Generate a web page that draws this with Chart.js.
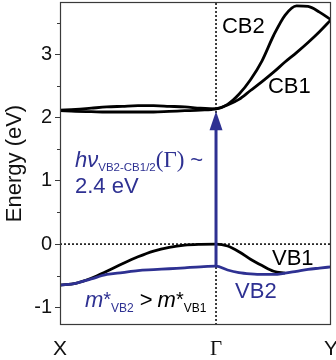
<!DOCTYPE html>
<html>
<head>
<meta charset="utf-8">
<script src="https://cdn.jsdelivr.net/npm/chart.js@4/dist/chart.umd.min.js"></script>
<style>
html,body{margin:0;padding:0;background:#fff;}
#wrap{width:336px;height:360px;}
</style>
</head>
<body>
<div id="wrap"><canvas id="c" width="336" height="360"></canvas></div>
<script>
// ---- data ----
const kPathXG = [0, 0.1, 0.2, 0.3, 0.4, 0.5, 0.6, 0.7, 0.8, 0.9, 1.0];           // X -> Γ
const kPathGY = [1.0, 1.074, 1.147, 1.221, 1.295, 1.369, 1.442, 1.516, 1.590, 1.663, 1.737]; // Γ -> Y
const kTickValues = [0, 1, 1.737];
const kTickLabels = ['X', 'Γ', 'Y'];
const energyTicks = [-1, 0, 1, 2, 3];
const energyMinorTicks = [-0.5, 0.5, 1.5, 2.5, 3.5];
const energyRange = [-1.28, 3.83];

const cb2XG = [2.12, 2.13, 2.15, 2.17, 2.18, 2.19, 2.19, 2.18, 2.17, 2.15, 2.14];
const cb2GY = [2.14, 2.21, 2.37, 2.60, 2.90, 3.30, 3.62, 3.77, 3.76, 3.67, 3.55];
const cb1XG = [2.11, 2.10, 2.095, 2.09, 2.09, 2.09, 2.09, 2.10, 2.11, 2.12, 2.14];
const cb1GY = [2.14, 2.20, 2.29, 2.43, 2.57, 2.72, 2.88, 3.03, 3.19, 3.36, 3.55];
const vb1XG = [-0.65, -0.62, -0.54, -0.43, -0.31, -0.20, -0.11, -0.05, -0.015, -0.003, 0];
const vb1GY = [0, -0.03, -0.12, -0.24, -0.34, -0.43, -0.46, null, null, null, null];
const vb2XG = [-0.65, -0.62, -0.55, -0.48, -0.45, -0.42, -0.405, -0.39, -0.375, -0.36, -0.35];
const vb2GY = [-0.35, -0.41, -0.45, -0.47, -0.48, -0.48, -0.46, -0.43, -0.40, -0.38, -0.36];

const transitionK = [1, 1];
const transitionE = [-0.35, 1.95];   // arrow shaft from VB2(Γ) up to the conduction band
const arrowTipE = 2.10;
const arrowBaseE = 1.80;

const BLUE = '#2E3192';
const BLACK = '#000000';

function joinPath(a, b) { return a.concat(b.slice(1)); }
const kAll = joinPath(kPathXG, kPathGY);
function pts(xs, ys) { return xs.map((x, i) => ({x: x, y: ys[i]})); }

const bandStyle = (color, order) => ({
  type: 'line', borderColor: color, borderWidth: 2.8, pointRadius: 0,
  cubicInterpolationMode: 'monotone', fill: false, order: order, spanGaps: false
});

const datasets = [
  Object.assign({label: 'zero', data: [{x: kTickValues[0], y: 0}, {x: kTickValues[2], y: 0}],
    borderColor: '#000', borderWidth: 1.5, borderDash: [2, 2], pointRadius: 0, order: 20}),
  Object.assign({label: 'gamma', data: [{x: 1, y: energyRange[0]}, {x: 1, y: energyRange[1]}],
    borderColor: '#000', borderWidth: 1.5, borderDash: [2, 2], pointRadius: 0, order: 20}),
  Object.assign({label: 'CB2', data: pts(kAll, joinPath(cb2XG, cb2GY))}, bandStyle(BLACK, 8)),
  Object.assign({label: 'CB1', data: pts(kAll, joinPath(cb1XG, cb1GY))}, bandStyle(BLACK, 8)),
  Object.assign({label: 'VB1', data: pts(kAll, joinPath(vb1XG, vb1GY))}, bandStyle(BLACK, 8)),
  Object.assign({label: 'VB2', data: pts(kAll, joinPath(vb2XG, vb2GY))}, bandStyle(BLUE, 5)),
  Object.assign({label: 'transition', data: pts(transitionK, transitionE),
    borderColor: BLUE, borderWidth: 3, pointRadius: 0, order: 1})
];

function drawRich(ctx, x, y, segs) {
  let cx = x;
  ctx.textBaseline = 'alphabetic';
  ctx.textAlign = 'left';
  segs.forEach(s => {
    ctx.font = s.font;
    ctx.fillStyle = s.color;
    ctx.fillText(s.text, cx, y + (s.dy || 0));
    cx += ctx.measureText(s.text).width + (s.gap || 0);
  });
}

const decor = {
  id: 'decor',
  afterDatasetsDraw(chart) {
    const ctx = chart.ctx, a = chart.chartArea;
    const xs = chart.scales.x, ys = chart.scales.y;
    ctx.save();
    // arrow head
    const gx = xs.getPixelForValue(transitionK[1]);
    const tipY = ys.getPixelForValue(arrowTipE), baseY = ys.getPixelForValue(arrowBaseE);
    ctx.fillStyle = BLUE;
    ctx.beginPath();
    ctx.moveTo(gx, tipY);
    ctx.lineTo(gx - 6.5, baseY);
    ctx.lineTo(gx + 6.5, baseY);
    ctx.closePath();
    ctx.fill();
    // frame
    ctx.strokeStyle = '#3a3a3a';
    ctx.lineWidth = 1.2;
    ctx.strokeRect(a.left + 0.5, a.top + 0.5, a.right - a.left - 1, a.bottom - a.top - 1);
    // minor ticks
    ctx.beginPath();
    energyMinorTicks.forEach(v => {
      const py = Math.round(ys.getPixelForValue(v)) + 0.5;
      ctx.moveTo(a.left - 3, py); ctx.lineTo(a.left, py);
    });
    ctx.lineWidth = 1;
    ctx.stroke();
    // labels
    const P = (k, e) => [xs.getPixelForValue(k), ys.getPixelForValue(e)];
    const F = '"Liberation Sans", Arial, sans-serif';
    const FS = '"Liberation Serif", "Times New Roman", serif';
    let p;
    p = P(1.038, 3.34); drawRich(ctx, p[0], p[1], [{text: 'CB2', font: '22px ' + F, color: BLACK}]);
    p = P(1.333, 2.39); drawRich(ctx, p[0], p[1], [{text: 'CB1', font: '22px ' + F, color: BLACK}]);
    p = P(1.359, -0.33); drawRich(ctx, p[0], p[1], [{text: 'VB1', font: '22px ' + F, color: BLACK}]);
    p = P(1.122, -0.85); drawRich(ctx, p[0], p[1], [{text: 'VB2', font: '22px ' + F, color: BLUE}]);
    p = P(0.096, 1.22); drawRich(ctx, p[0], p[1], [
      {text: 'hν', font: 'italic 22px ' + F, color: BLUE},
      {text: 'VB2-CB1/2', font: '11.5px ' + F, color: BLUE, dy: 4},
      {text: '(Γ)', font: '23px ' + FS, color: BLUE, gap: 6},
      {text: '~', font: '22px ' + F, color: BLUE}
    ]);
    p = P(0.096, 0.81); drawRich(ctx, p[0], p[1], [{text: '2.4 eV', font: '22px ' + F, color: BLUE}]);
    p = P(0.16, -1.0); drawRich(ctx, p[0], p[1], [
      {text: 'm', font: 'italic 22px ' + F, color: BLUE},
      {text: '*', font: '20px ' + F, color: BLUE, dy: -1},
      {text: 'VB2', font: '12px ' + F, color: BLUE, dy: 5, gap: 6},
      {text: '>', font: '22px ' + F, color: BLACK, gap: 5},
      {text: 'm', font: 'italic 22px ' + F, color: BLACK},
      {text: '*', font: '20px ' + F, color: BLACK, dy: -1},
      {text: 'VB1', font: '12px ' + F, color: BLACK, dy: 5}
    ]);
    ctx.restore();
  }
};

new Chart(document.getElementById('c'), {
  type: 'line',
  data: {datasets: datasets},
  options: {
    responsive: false,
    animation: false,
    layout: {padding: {left: 0, right: 5, top: 2, bottom: 0}},
    plugins: {legend: {display: false}, tooltip: {enabled: false}},
    scales: {
      x: {
        type: 'linear', min: kTickValues[0], max: kTickValues[2],
        afterBuildTicks: s => { s.ticks = kTickValues.map(v => ({value: v})); },
        afterFit: s => { s.height = 35; s.paddingLeft = 0; s.paddingRight = 0; },
        grid: {display: true, drawOnChartArea: false, drawTicks: false},
        border: {display: false},
        ticks: {
          autoSkip: false, maxRotation: 0, padding: 12, color: '#111',
          font: ctx => ({size: 21, family: (ctx.tick && ctx.tick.value === 1) ? '"Liberation Serif", serif' : '"Liberation Sans", Arial, sans-serif'}),
          callback: (v) => { const i = kTickValues.indexOf(v); return i >= 0 ? kTickLabels[i] : ''; }
        }
      },
      y: {
        type: 'linear', min: energyRange[0], max: energyRange[1],
        afterBuildTicks: s => { s.ticks = energyTicks.map(v => ({value: v})); },
        afterFit: s => { s.width = 60; s.paddingTop = 0; s.paddingBottom = 0; },
        grid: {display: true, drawOnChartArea: false, drawTicks: true, tickLength: 5, tickColor: '#3a3a3a', tickWidth: 1},
        border: {display: false},
        title: {display: true, text: 'Energy (eV)', color: '#111', font: {size: 22, family: '"Liberation Sans", Arial, sans-serif'}, padding: {top: 2, bottom: 0}},
        ticks: {color: '#111', padding: 3, font: {size: 20, family: '"Liberation Sans", Arial, sans-serif'},
          callback: v => String(v)}
      }
    }
  },
  plugins: [decor]
});
</script>
</body>
</html>
